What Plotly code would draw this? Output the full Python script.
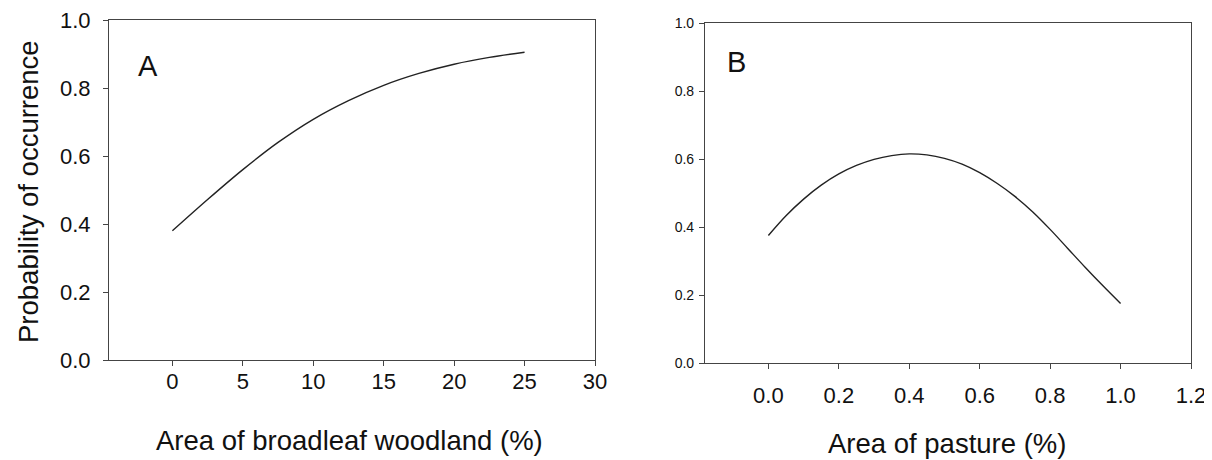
import plotly.graph_objects as go

# Panel A: broadleaf woodland
woodland_x = [0, 2.5, 5, 7.5, 10, 12.5, 15, 17.5, 20, 22.5, 25]
woodland_p = [0.380, 0.472, 0.560, 0.640, 0.708, 0.763, 0.808, 0.843, 0.870, 0.890, 0.905]

# Panel B: pasture
pasture_x = [0.00, 0.05, 0.10, 0.15, 0.20, 0.25, 0.30, 0.35, 0.40, 0.45, 0.50,
             0.55, 0.60, 0.65, 0.70, 0.75, 0.80, 0.85, 0.90, 0.95, 1.00]
pasture_p = [0.375, 0.433, 0.482, 0.523, 0.556, 0.581, 0.599, 0.610, 0.615, 0.612, 0.602,
             0.585, 0.560, 0.528, 0.490, 0.445, 0.393, 0.337, 0.281, 0.227, 0.175]

xticks_a = [0, 5, 10, 15, 20, 25, 30]
xticks_b = [0.0, 0.2, 0.4, 0.6, 0.8, 1.0, 1.2]
yticks = [0.0, 0.2, 0.4, 0.6, 0.8, 1.0]

FONT = "Liberation Sans, Arial, sans-serif"
AX = "#444444"
OFF = 8  # page body margin
W, H = 1212 - OFF, 460 - OFF


def px(x):
    return (x - OFF) / W


def py(y):
    return 1 - (y - OFF) / H


fig = go.Figure()
fig.add_trace(go.Scatter(x=woodland_x, y=woodland_p, mode="lines", line=dict(color="#222222", width=1.4, shape="spline"),
                         xaxis="x", yaxis="y", showlegend=False))
fig.add_trace(go.Scatter(x=pasture_x, y=pasture_p, mode="lines", line=dict(color="#222222", width=1.4, shape="spline"),
                         xaxis="x2", yaxis="y2", showlegend=False))

common = dict(showgrid=False, zeroline=False, showline=True, linecolor=AX, linewidth=1.2,
              mirror=True, ticks="outside", ticklen=5, tickwidth=1, tickcolor=AX, automargin=False,
              ticklabeloverflow="allow")

fig.update_layout(
    width=W, height=H, margin=dict(l=0, r=0, t=0, b=0, pad=0, autoexpand=False),
    plot_bgcolor="white", paper_bgcolor="white",
    font=dict(family=FONT, color="#111111"),
    xaxis=dict(domain=[px(109), px(595)], range=[-4.5, 30], tickvals=xticks_a,
               tickfont=dict(size=22), ticklabelstandoff=-4, anchor="y", **common),
    yaxis=dict(domain=[py(360), py(20)], range=[0, 1], tickvals=yticks, tickformat=".1f",
               tickfont=dict(size=22), ticklabelstandoff=8, anchor="x", **common),
    xaxis2=dict(domain=[px(705), px(1191)], range=[-0.18, 1.2], tickvals=xticks_b, tickformat=".1f",
                tickfont=dict(size=22), ticklabelstandoff=7, anchor="y2", **common),
    yaxis2=dict(domain=[py(363), py(23)], range=[0, 1], tickvals=yticks, tickformat=".1f",
                tickfont=dict(size=14), ticklabelstandoff=2, anchor="x2", **common),
)


def ann(text, x, y, size, angle=0):
    fig.add_annotation(text=text, x=px(x), y=py(y), xref="paper", yref="paper",
                       showarrow=False, font=dict(size=size, family=FONT, color="#111111"),
                       textangle=angle, xanchor="center", yanchor="middle")


ann("Area of broadleaf woodland (%)", 350, 440, 27.5)
ann("Area of pasture (%)", 947, 443, 27.5)
ann("Probability of occurrence", 29, 192, 27.5, angle=-90)
ann("A", 148, 66, 29)
ann("B", 736, 62, 29)

fig.write_html("out.html")
